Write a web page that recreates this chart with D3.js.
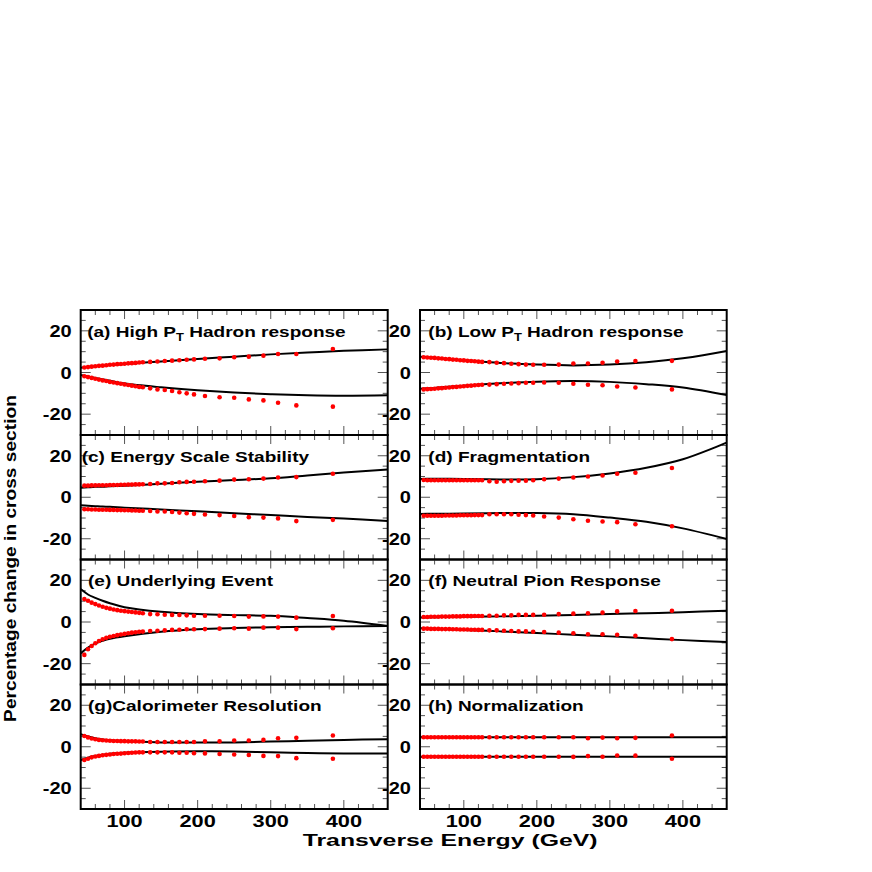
<!DOCTYPE html>
<html><head><meta charset="utf-8">
<script src="https://cdnjs.cloudflare.com/ajax/libs/d3/7.8.5/d3.min.js"></script>
<style>
html,body{margin:0;padding:0;background:#fff;}
svg{display:block;}
text{font-family:"Liberation Sans",Arial,Helvetica,sans-serif;font-weight:bold;fill:#000;}
</style></head>
<body>
<svg id="chart" width="872" height="872"></svg>
<script>
// ---------------- DATA ----------------
const pointX = [45,50,55,60,65,70,75,80,85,90,95,100,105,110,115,120,125,135,145,155,165,175,185,195,210,230,250,270,290,310,335,385];
const curveX = [40,50,60,70,80,100,150,200,250,300,350,400,460];

const titles = ["(a) High P|T| Hadron response","(b) Low P|T| Hadron response","(c) Energy Scale Stability","(d) Fragmentation",
                "(e) Underlying Event","(f) Neutral Pion Response","(g)Calorimeter Resolution","(h) Normalization"];

// black curves (upper / lower), sampled at curveX
const curveA_up = [2.3,2.7,3.0,3.3,3.6,4.1,5.3,6.5,7.6,8.7,9.6,10.4,11.1];
const curveA_lo = [-1.2,-1.9,-2.6,-3.3,-4.0,-5.3,-7.1,-8.5,-9.6,-10.4,-10.9,-11.1,-10.9];
const curveB_up = [7.6,7.3,7.0,6.7,6.4,5.9,4.6,3.8,3.4,3.8,4.9,6.8,10.3];
const curveB_lo = [-7.8,-7.6,-7.4,-7.1,-6.8,-6.3,-5.2,-4.4,-4.1,-4.5,-5.6,-7.2,-10.8];
const curveC_up = [4.6,4.8,5.0,5.1,5.3,5.6,6.5,7.5,8.3,9.1,10.5,11.9,13.4];
const curveC_lo = [-3.9,-4.1,-4.3,-4.5,-4.6,-5.0,-5.9,-6.8,-7.7,-8.6,-9.5,-10.3,-11.4];
const curveD_up = [8.8,8.9,8.9,8.9,8.9,8.8,8.6,8.7,9.7,11.5,14.2,18.3,26.3];
const curveD_lo = [-8.1,-8.0,-8.0,-7.9,-7.9,-7.8,-7.6,-7.6,-8.2,-9.8,-11.8,-15.0,-20.1];
const curveE_up = [15.8,13.2,11.6,10.2,9.0,7.1,4.9,3.8,3.3,3.0,1.9,0.6,-1.9];
const curveE_lo = [-15.0,-12.3,-10.3,-9.0,-8.0,-6.8,-4.7,-3.5,-2.9,-2.5,-2.3,-2.1,-1.9];
const curveF_up = [2.2,2.2,2.3,2.4,2.4,2.5,2.7,3.0,3.4,3.8,4.2,4.7,5.4];
const curveF_lo = [-3.0,-3.1,-3.2,-3.4,-3.5,-3.8,-4.5,-5.3,-6.1,-6.9,-7.8,-8.7,-9.6];
const curveG_up = [6.1,4.9,4.1,3.5,3.1,2.6,2.1,2.0,2.1,2.5,2.9,3.3,3.6];
const curveG_lo = [-6.4,-5.3,-4.5,-3.9,-3.4,-2.9,-2.4,-2.2,-2.3,-2.7,-3.0,-3.2,-3.3];
const curveH_up = [4.6,4.6,4.6,4.6,4.6,4.6,4.6,4.6,4.6,4.6,4.6,4.6,4.6];
const curveH_lo = [-4.8,-4.8,-4.8,-4.8,-4.8,-4.8,-4.8,-4.8,-4.8,-4.8,-4.8,-4.8,-4.8];

// red points (upper / lower), at pointX
const ptsA_up = [2.4,2.6,2.8,3.0,3.2,3.3,3.5,3.7,3.8,4.0,4.1,4.2,4.4,4.5,4.6,4.8,4.9,5.1,5.3,5.5,5.7,5.9,6.1,6.3,6.6,6.8,7.3,7.6,8.1,8.9,8.9,11.3];
const ptsA_lo = [-1.8,-2.2,-2.6,-3.0,-3.4,-3.8,-4.1,-4.5,-4.8,-5.1,-5.4,-5.7,-6.0,-6.3,-6.6,-6.9,-7.1,-7.6,-8.1,-8.4,-8.9,-9.5,-10.0,-10.5,-11.3,-11.9,-12.1,-12.9,-13.4,-14.5,-15.8,-16.4];
const ptsB_up = [7.3,7.2,7.1,7.0,6.8,6.7,6.5,6.4,6.2,6.1,5.9,5.8,5.6,5.5,5.4,5.2,5.1,5.0,4.7,4.5,4.2,4.0,3.8,3.7,3.7,3.8,4.3,4.3,4.7,5.3,5.5,5.6];
const ptsB_lo = [-8.1,-8.0,-7.9,-7.8,-7.6,-7.5,-7.3,-7.2,-7.0,-6.9,-6.7,-6.6,-6.4,-6.3,-6.1,-6.0,-5.9,-5.8,-5.6,-5.4,-5.3,-5.1,-4.9,-4.9,-4.8,-4.9,-5.4,-5.9,-6.1,-6.7,-7.2,-8.1];
const ptsC_up = [5.6,5.6,5.7,5.7,5.8,5.8,5.8,5.9,5.9,5.9,6.0,6.0,6.1,6.1,6.2,6.2,6.3,6.4,6.7,6.7,6.9,7.2,7.4,7.5,7.7,8.0,8.5,8.7,9.0,9.5,9.7,11.3];
const ptsC_lo = [-5.8,-5.8,-5.9,-5.9,-6.0,-6.0,-6.0,-6.1,-6.1,-6.2,-6.2,-6.3,-6.3,-6.4,-6.4,-6.5,-6.5,-6.6,-6.9,-6.9,-7.1,-7.4,-7.7,-8.0,-8.3,-8.6,-9.0,-9.6,-9.8,-10.2,-11.5,-10.9];
const ptsD_up = [8.3,8.2,8.2,8.2,8.2,8.2,8.2,8.2,8.2,8.2,8.2,8.2,8.2,8.2,8.2,8.2,8.2,7.7,7.5,7.7,7.9,8.0,8.0,8.2,8.7,9.0,9.5,10.0,10.5,11.3,11.8,14.1];
const ptsD_lo = [-8.9,-8.9,-8.9,-8.9,-8.9,-8.9,-8.8,-8.8,-8.8,-8.8,-8.7,-8.7,-8.7,-8.7,-8.6,-8.6,-8.6,-8.2,-8.2,-8.2,-8.2,-8.4,-8.6,-8.8,-9.3,-9.8,-10.6,-11.3,-11.7,-12.0,-13.0,-14.0];
const ptsE_up = [11.0,10.2,9.3,8.6,7.9,7.3,6.8,6.4,6.0,5.7,5.4,5.2,5.0,4.8,4.6,4.4,4.2,3.8,3.7,3.5,3.4,3.4,3.2,3.0,3.0,3.0,2.9,2.6,2.7,2.6,2.1,2.9];
const ptsE_lo = [-15.8,-13.1,-11.5,-10.2,-9.1,-8.3,-7.6,-7.1,-6.7,-6.3,-6.0,-5.7,-5.4,-5.1,-4.9,-4.7,-4.6,-4.3,-4.2,-4.0,-3.8,-3.7,-3.5,-3.5,-3.4,-3.2,-3.0,-3.2,-2.7,-2.7,-3.4,-3.0];
const ptsF_up = [2.4,2.4,2.5,2.5,2.5,2.6,2.6,2.6,2.7,2.7,2.7,2.8,2.8,2.8,2.9,2.9,2.9,3.0,3.0,3.2,3.2,3.4,3.4,3.4,3.5,3.8,4.0,4.2,4.5,5.1,5.3,5.4];
const ptsF_lo = [-3.2,-3.2,-3.3,-3.3,-3.3,-3.4,-3.4,-3.4,-3.5,-3.5,-3.6,-3.6,-3.6,-3.7,-3.7,-3.8,-3.8,-4.0,-4.0,-4.2,-4.3,-4.5,-4.5,-4.7,-4.8,-5.1,-5.4,-5.9,-5.9,-6.1,-6.6,-8.2];
const ptsG_up = [5.2,4.5,4.0,3.6,3.3,3.1,3.0,2.9,2.8,2.8,2.7,2.7,2.6,2.6,2.6,2.5,2.5,2.3,2.3,2.3,2.3,2.3,2.3,2.3,2.6,2.6,3.0,3.0,3.3,4.1,4.3,5.4];
const ptsG_lo = [-6.4,-5.8,-5.1,-4.7,-4.4,-4.1,-3.9,-3.7,-3.5,-3.4,-3.3,-3.1,-3.0,-2.9,-2.8,-2.7,-2.7,-2.7,-2.7,-2.7,-2.7,-2.9,-2.9,-3.1,-3.2,-3.5,-3.7,-4.0,-4.4,-4.5,-5.5,-5.8];
const ptsH_up = [4.6,4.6,4.6,4.6,4.6,4.6,4.6,4.6,4.6,4.6,4.6,4.6,4.6,4.6,4.6,4.6,4.6,4.6,4.6,4.6,4.6,4.6,4.6,4.6,4.6,4.6,4.6,4.1,4.4,4.1,4.3,5.4];
const ptsH_lo = [-4.8,-4.8,-4.8,-4.8,-4.8,-4.8,-4.8,-4.8,-4.8,-4.8,-4.8,-4.8,-4.8,-4.8,-4.8,-4.8,-4.8,-4.8,-4.8,-4.8,-4.8,-4.8,-4.8,-4.8,-4.8,-4.8,-4.9,-4.5,-4.8,-4.2,-4.3,-5.8];

const xTickLabels = [100,200,300,400];
const xMinorTicks = [60,80,120,140,160,180,220,240,260,280,320,340,360,380,420,440];
const yTickLabels = [-20,0,20];
const yMinorTicks = [-25,-15,-10,-5,5,10,15,25];
const xTitle = "Transverse Energy (GeV)";
const yTitle = "Percentage change in cross section";

const curvesUp = [curveA_up,curveB_up,curveC_up,curveD_up,curveE_up,curveF_up,curveG_up,curveH_up];
const curvesLo = [curveA_lo,curveB_lo,curveC_lo,curveD_lo,curveE_lo,curveF_lo,curveG_lo,curveH_lo];
const ptsUp = [ptsA_up,ptsB_up,ptsC_up,ptsD_up,ptsE_up,ptsF_up,ptsG_up,ptsH_up];
const ptsLo = [ptsA_lo,ptsB_lo,ptsC_lo,ptsD_lo,ptsE_lo,ptsF_lo,ptsG_lo,ptsH_lo];

// ---------------- LAYOUT ----------------
const colX = [[80.7,387.7],[420,726.7]];
const rowY = [310,435,559.5,684.5,809];
const titleDx = [6.5,8.3,1.0,8.3,7.3,8.3,7.3,8.3];
const titleDy = 26.8;
const stretch = 1.27;

const svg = d3.select("#chart");

function stretchedText(g, x, y, str, size, sx, anchor) {
  const t = g.append("text")
    .attr("transform", `translate(${x},${y}) scale(${sx},1)`)
    .attr("font-size", size)
    .attr("text-anchor", anchor || "start");
  const parts = str.split("|");
  parts.forEach((p, i) => {
    if (i % 2 === 1) {
      t.append("tspan").attr("font-size", size * 0.68).attr("dy", 4).text(p);
    } else {
      const ts = t.append("tspan").text(p);
      if (i > 0) ts.attr("dy", -4);
    }
  });
  return t;
}

for (let i = 0; i < 8; i++) {
  const col = i % 2, row = Math.floor(i / 2);
  const [x0, x1] = colX[col];
  const y0 = rowY[row], y1 = rowY[row + 1];
  const xs = d3.scaleLinear().domain([40, 460]).range([x0, x1]);
  const ys = d3.scaleLinear().domain([-30, 30]).range([y1, y0]);
  const g = svg.append("g");

  // ticks
  const tk = g.append("g").attr("stroke", "#555").attr("stroke-width", 1);
  xTickLabels.forEach(v => {
    tk.append("line").attr("x1", xs(v)).attr("x2", xs(v)).attr("y1", y0).attr("y2", y0 + 9);
    tk.append("line").attr("x1", xs(v)).attr("x2", xs(v)).attr("y1", y1).attr("y2", y1 - 9);
  });
  xMinorTicks.forEach(v => {
    tk.append("line").attr("x1", xs(v)).attr("x2", xs(v)).attr("y1", y0).attr("y2", y0 + 5);
    tk.append("line").attr("x1", xs(v)).attr("x2", xs(v)).attr("y1", y1).attr("y2", y1 - 5);
  });
  yTickLabels.forEach(v => {
    tk.append("line").attr("x1", x0).attr("x2", x0 + 10).attr("y1", ys(v)).attr("y2", ys(v));
    tk.append("line").attr("x1", x1).attr("x2", x1 - 10).attr("y1", ys(v)).attr("y2", ys(v));
  });
  yMinorTicks.forEach(v => {
    tk.append("line").attr("x1", x0).attr("x2", x0 + 5).attr("y1", ys(v)).attr("y2", ys(v));
    tk.append("line").attr("x1", x1).attr("x2", x1 - 5).attr("y1", ys(v)).attr("y2", ys(v));
  });

  // curves
  const line = d3.line().x((d, k) => xs(curveX[k])).y(d => ys(d)).curve(d3.curveCatmullRom);
  [curvesUp[i], curvesLo[i]].forEach(c => {
    g.append("path").attr("d", line(c)).attr("fill", "none").attr("stroke", "#000").attr("stroke-width", 2);
  });

  // points
  [ptsUp[i], ptsLo[i]].forEach(p => {
    g.selectAll(null).data(p).enter().append("circle")
      .attr("cx", (d, k) => xs(pointX[k])).attr("cy", d => ys(d)).attr("r", 2.3).attr("fill", "#ff0000");
  });

  // frame
  g.append("rect").attr("x", x0).attr("y", y0).attr("width", x1 - x0).attr("height", y1 - y0)
    .attr("fill", "none").attr("stroke", "#000").attr("stroke-width", 2);

  // y tick labels
  yTickLabels.forEach(v => {
    stretchedText(g, x0 - 9, ys(v) + 6, String(v), 16, 1.25, "end");
  });

  // x tick labels (bottom row only)
  if (row === 3) {
    xTickLabels.forEach(v => {
      stretchedText(g, xs(v), 826.5, String(v), 16, 1.36, "middle");
    });
  }

  // panel title
  stretchedText(g, x0 + titleDx[i], y0 + titleDy, titles[i], 15, stretch, "start");
}

// axis titles
(function () {
  const t = svg.append("text").attr("font-size", 17).text(xTitle);
  const w = t.node().getComputedTextLength();
  t.attr("transform", `translate(302.7,846) scale(${295 / w},1)`);
  const yt = svg.append("text").attr("font-size", 16).attr("text-anchor", "middle").text(yTitle);
  const w2 = yt.node().getComputedTextLength();
  yt.attr("transform", `translate(15.5,558.5) rotate(-90) scale(${327 / w2},1)`);
})();
</script>
</body></html>
